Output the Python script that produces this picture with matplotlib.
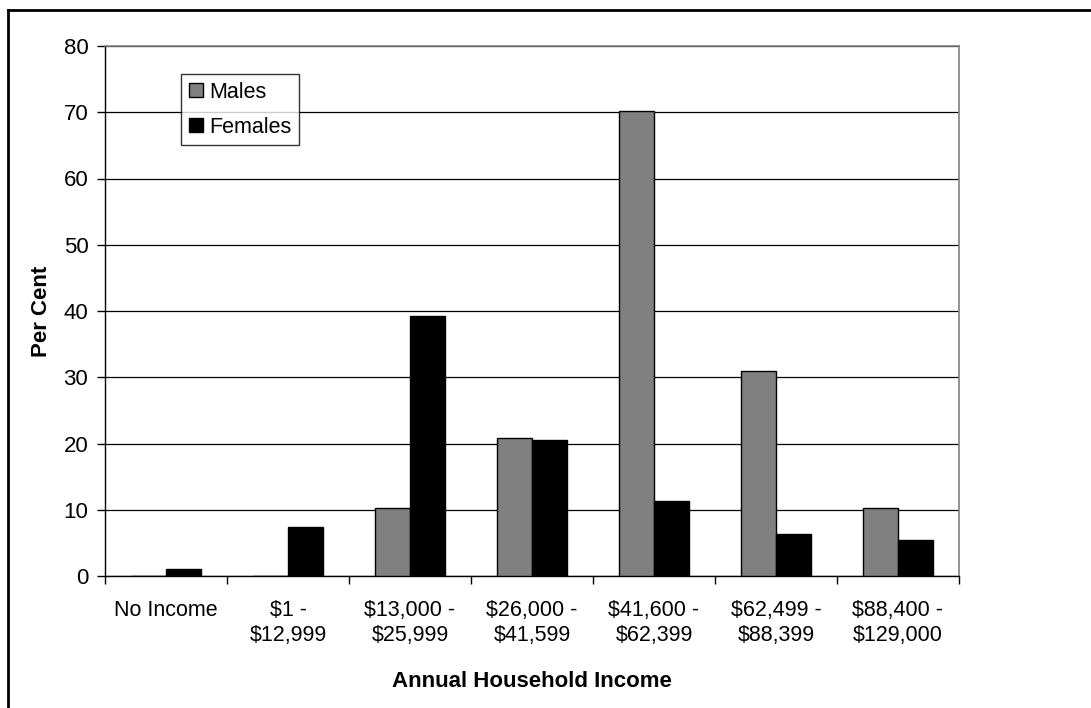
import matplotlib
matplotlib.use("Agg")
import matplotlib.pyplot as plt
import numpy as np
from matplotlib.lines import Line2D

categories = ["No Income", "$1 -\n$12,999", "$13,000 -\n$25,999", "$26,000 -\n$41,599",
              "$41,600 -\n$62,399", "$62,499 -\n$88,399", "$88,400 -\n$129,000"]
males = [0, 0, 10.3, 20.8, 70.25, 31.0, 10.3]
females = [1.1, 7.4, 39.3, 20.5, 11.3, 6.3, 5.4]
yticks = [0, 10, 20, 30, 40, 50, 60, 70, 80]

plt.rcParams['font.family'] = ['Liberation Sans', 'DejaVu Sans']

fig = plt.figure(figsize=(10.91, 7.08), dpi=100)
ax = fig.add_axes([105/1091, 1-576/708, (959-105)/1091, (576-46)/708])

x = np.arange(len(categories))
w = 0.29
ax.bar(x - w/2, males, w, color="#808080", edgecolor="black", linewidth=1.0, label="Males", zorder=3)
ax.bar(x + w/2, females, w, color="black", edgecolor="black", linewidth=1.0, label="Females", zorder=3)

ax.set_xlim(-0.5, len(categories) - 0.5)
ax.set_ylim(0, 80)
ax.set_yticks(yticks)
ax.set_yticklabels([str(t) for t in yticks], fontsize=16)
ax.yaxis.grid(True, color="black", linewidth=0.9, zorder=0)
ax.set_axisbelow(True)

ax.set_xticks(x)
ax.set_xticklabels(categories, fontsize=15.5, linespacing=1.25)
ax.tick_params(axis="x", which="major", length=0, pad=17)
ax.set_xticks(np.arange(len(categories) + 1) - 0.5, minor=True)
ax.tick_params(axis="x", which="minor", length=6, width=1, color="black", direction="out")
ax.tick_params(axis="y", which="major", length=6, width=1, color="black", direction="out", pad=6)

for s in ["top", "right"]:
    ax.spines[s].set_color("#808080")
    ax.spines[s].set_linewidth(1.2)
for s in ["left", "bottom"]:
    ax.spines[s].set_color("black")
    ax.spines[s].set_linewidth(1.0)

ax.set_xlabel("Annual Household Income", fontsize=16, fontweight="bold", labelpad=18)
ax.set_ylabel("Per Cent", fontsize=16, fontweight="bold", labelpad=8)

leg = ax.legend(loc="upper left", bbox_to_anchor=((181-105)/854, (576-74)/530),
                fontsize=15.5, frameon=True, fancybox=False, edgecolor="black",
                handlelength=0.65, handleheight=0.65, handletextpad=0.3,
                borderpad=0.35, labelspacing=0.65, borderaxespad=0)
leg.get_frame().set_linewidth(1.0)
leg.set_zorder(5)

# outer chart border (top and left only visible)
fig.add_artist(Line2D([8/1091, 1], [1-9.5/708, 1-9.5/708], transform=fig.transFigure, color="black", linewidth=2))
fig.add_artist(Line2D([8/1091, 8/1091], [0, 1-9.5/708], transform=fig.transFigure, color="black", linewidth=2))

fig.savefig("out.png", dpi=100)
